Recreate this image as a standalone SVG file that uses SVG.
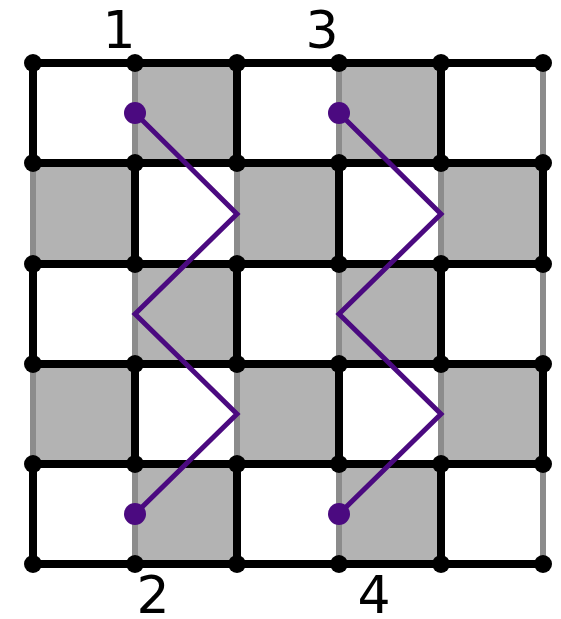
<svg xmlns="http://www.w3.org/2000/svg" width="561" height="619" viewBox="0 0 561 619">
<style>
.cell{fill:#b3b3b3}
.bl{stroke:#000;stroke-width:8;stroke-linecap:butt}
.gl{stroke:#8c8c8c;stroke-width:6}
.pt{fill:#000}
.zz{fill:none;stroke:#4b0a80;stroke-width:5;stroke-linejoin:miter}
.end{fill:#4b0a80}
.lbl{font-family:"DejaVu Sans",sans-serif;font-size:52px;fill:#000;text-anchor:middle}
</style>
<rect width="561" height="619" fill="#fff"/>
<g id="cells">
<rect class="cell" x="135" y="63" width="102" height="100"/>
<rect class="cell" x="339" y="63" width="102" height="100"/>
<rect class="cell" x="33" y="163" width="102" height="101"/>
<rect class="cell" x="237" y="163" width="102" height="101"/>
<rect class="cell" x="441" y="163" width="102" height="101"/>
<rect class="cell" x="135" y="264" width="102" height="100"/>
<rect class="cell" x="339" y="264" width="102" height="100"/>
<rect class="cell" x="33" y="364" width="102" height="100"/>
<rect class="cell" x="237" y="364" width="102" height="100"/>
<rect class="cell" x="441" y="364" width="102" height="100"/>
<rect class="cell" x="135" y="464" width="102" height="100"/>
<rect class="cell" x="339" y="464" width="102" height="100"/>
</g>
<g id="gray-lines">
<path class="gl" d="M135 63V163M339 63V163M543 63V163M33 163V264M237 163V264M441 163V264M135 264V364M339 264V364M543 264V364M33 364V464M237 364V464M441 364V464M135 464V564M339 464V564M543 464V564"/>
</g>
<g id="black-lines">
<path class="bl" d="M33 63H543M33 163H543M33 264H543M33 364H543M33 464H543M33 564H543"/>
<path class="bl" d="M33 63V163M237 63V163M441 63V163M135 163V264M339 163V264M543 163V264M33 264V364M237 264V364M441 264V364M135 364V464M339 364V464M543 364V464M33 464V564M237 464V564M441 464V564"/>
</g>
<g id="grid-points" class="pt">
<circle cx="33" cy="63" r="9"/><circle cx="135" cy="63" r="9"/><circle cx="237" cy="63" r="9"/><circle cx="339" cy="63" r="9"/><circle cx="441" cy="63" r="9"/><circle cx="543" cy="63" r="9"/>
<circle cx="33" cy="163" r="9"/><circle cx="135" cy="163" r="9"/><circle cx="237" cy="163" r="9"/><circle cx="339" cy="163" r="9"/><circle cx="441" cy="163" r="9"/><circle cx="543" cy="163" r="9"/>
<circle cx="33" cy="264" r="9"/><circle cx="135" cy="264" r="9"/><circle cx="237" cy="264" r="9"/><circle cx="339" cy="264" r="9"/><circle cx="441" cy="264" r="9"/><circle cx="543" cy="264" r="9"/>
<circle cx="33" cy="364" r="9"/><circle cx="135" cy="364" r="9"/><circle cx="237" cy="364" r="9"/><circle cx="339" cy="364" r="9"/><circle cx="441" cy="364" r="9"/><circle cx="543" cy="364" r="9"/>
<circle cx="33" cy="464" r="9"/><circle cx="135" cy="464" r="9"/><circle cx="237" cy="464" r="9"/><circle cx="339" cy="464" r="9"/><circle cx="441" cy="464" r="9"/><circle cx="543" cy="464" r="9"/>
<circle cx="33" cy="564" r="9"/><circle cx="135" cy="564" r="9"/><circle cx="237" cy="564" r="9"/><circle cx="339" cy="564" r="9"/><circle cx="441" cy="564" r="9"/><circle cx="543" cy="564" r="9"/>
</g>
<g id="connectors">
<path class="zz" d="M135 113L237 214L135 314L237 414L135 514"/>
<path class="zz" d="M339 113L441 214L339 314L441 414L339 514"/>
</g>
<g id="node-1"><circle class="end" cx="135" cy="113" r="11"/><text class="lbl" x="119" y="48">1</text></g>
<g id="node-2"><circle class="end" cx="135" cy="514" r="11"/><text class="lbl" x="153" y="613">2</text></g>
<g id="node-3"><circle class="end" cx="339" cy="113" r="11"/><text class="lbl" x="322" y="48">3</text></g>
<g id="node-4"><circle class="end" cx="339" cy="514" r="11"/><text class="lbl" x="374" y="613">4</text></g>
</svg>
